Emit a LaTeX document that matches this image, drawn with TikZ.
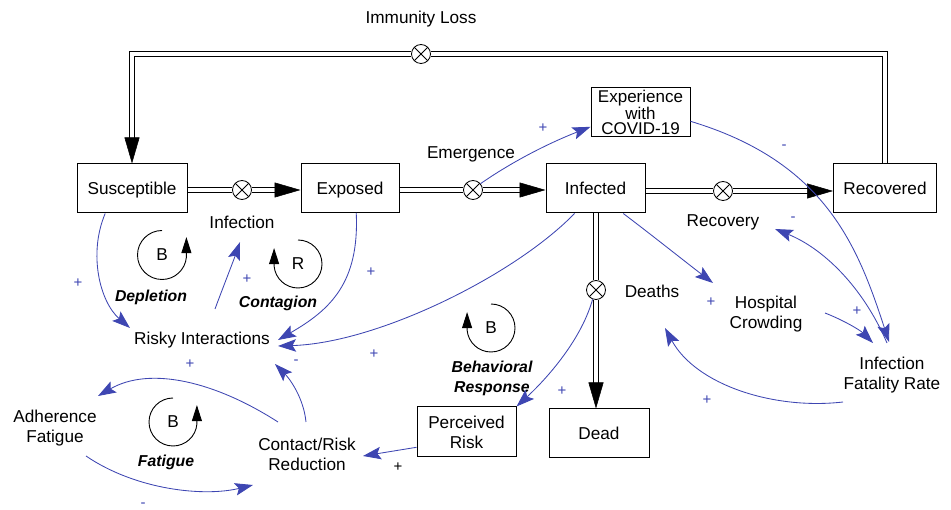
\documentclass[tikz,border=0pt]{standalone}
\usepackage{fontspec}
\setmainfont{Liberation Sans}
\usetikzlibrary{arrows.meta,calc}
\definecolor{cldblue}{RGB}{62,70,178}
\begin{document}
\begin{tikzpicture}[x=1pt,y=-1pt,
  every node/.style={font=\fontsize{17.2}{20}\selectfont, text depth=0pt},
  stock/.style={draw, line width=1pt, minimum width=#1, minimum height=49pt, inner sep=0pt, align=center},
  aux/.style={inner sep=2pt, align=center},
  valve/.style={circle, draw, line width=0.8pt, fill=white, minimum size=19pt, inner sep=0pt,
     path picture={\draw[line width=0.8pt] (path picture bounding box.north west) -- (path picture bounding box.south east) (path picture bounding box.north east) -- (path picture bounding box.south west);}},
  pipe/.style={draw=black, line width=1pt, double=white, double distance=4pt, line join=miter},
  pipehead/.style={draw=white, line width=0.5pt, -{Triangle[color=black, fill=black, length=26pt, width=15pt]}},
  cld/.style={draw=cldblue, line width=0.85pt, -{Stealth[length=18pt, width=12.5pt, inset=3.5pt]}},
  loopline/.style={draw=black, line width=0.9pt, -{Triangle[length=16pt, width=10pt]}},
  sign/.style={text=cldblue, font=\fontsize{15}{15}\selectfont, inner sep=0pt},
  looplabel/.style={font=\fontsize{15.8}{20}\selectfont\bfseries\itshape, align=center, inner sep=1pt},
]
\useasboundingbox (0,0) rectangle (951,510);

% stocks
\node[stock=110pt] (sus) at (132,188.5) {Susceptible};
\node[stock=98pt] (expo) at (350,188) {Exposed};
\node[stock=99pt] (inf) at (595.5,188.5) {Infected};
\node[stock=103pt] (rec) at (885,188.5) {Recovered};
\node[stock=99pt, font=\fontsize{17}{15.5}\selectfont] (expr) at (640.5,112.5) {Experience\\with\\COVID-19};
\node[stock=99pt, minimum height=50pt] (perc) at (466.5,432) {Perceived\\Risk};
\node[stock=100pt] (dead) at (599,433.5) {Dead};

% valves
\node[valve] (vInf) at (242,190) {};
\node[valve] (vEmer) at (473,190) {};
\node[valve] (vRec) at (723,191) {};
\node[valve] (vImm) at (421,54) {};
\node[valve] (vDeath) at (596,290) {};

% auxiliary texts
\node[aux] (immL) at (421,17) {Immunity Loss};
\node[aux] (infL) at (242,222) {Infection};
\node[aux] (emL) at (471,153) {Emergence};
\node[aux] (recL) at (723,221) {Recovery};
\node[aux] (deaL) at (652,291) {Deaths};
\node[aux] (hosp) at (766,312) {Hospital\\Crowding};
\node[aux] (ifr) at (892,373) {Infection\\Fatality Rate};
\node[aux] (risky) at (202,338) {Risky Interactions};
\node[aux] (adher) at (55,426) {Adherence\\Fatigue};
\node[aux] (contact) at (307,454) {Contact/Risk\\Reduction};

% loop markers
\node (bDep) at (162,255) {B};
\node (rCon) at (298,264) {R};
\node (bFat) at (173,422) {B};
\node (bBeh) at (491,328) {B};
\node[looplabel] (lDep) at (151,296) {Depletion};
\node[looplabel] (lCon) at (278,302) {Contagion};
\node[looplabel] (lFat) at (166,461) {Fatigue};
\node[looplabel] (lBeh) at (492,377) {Behavioral\\Response};
\draw[loopline] (bDep) ++(90:24.5pt) arc[start angle=90, end angle=355, radius=24.5pt] -- ++(0,-20);
\draw[loopline] (rCon) ++(90:24pt) arc[start angle=90, end angle=-175, radius=24pt] -- ++(0,-18);
\draw[loopline] (bFat) ++(90:24pt) arc[start angle=90, end angle=355, radius=24pt] -- ++(0,-19);
\draw[loopline] (bBeh) ++(90:24pt) arc[start angle=90, end angle=-175, radius=24pt] -- ++(0,-18);

% pipes
\draw[pipe] (sus.east|-vInf) -- (vInf.west);
\draw[pipe, shorten >=10pt] (vInf.east) -- (expo.west|-vInf);
\draw[pipehead] (vInf.east) -- (expo.west|-vInf);

\draw[pipe] (expo.east|-vEmer) -- (vEmer.west);
\draw[pipe, shorten >=10pt] (vEmer.east) -- (inf.west|-vEmer);
\draw[pipehead] (vEmer.east) -- (inf.west|-vEmer);

\draw[pipe] (inf.east|-vRec) -- (vRec.west);
\draw[pipe, shorten >=10pt] (vRec.east) -- (rec.west|-vRec);
\draw[pipehead] (vRec.east) -- (rec.west|-vRec);

\draw[pipe] (rec.north) -- (rec.north|-vImm) -- (vImm.east);
\draw[pipe, shorten >=10pt] (vImm.west) -- (sus.north|-vImm) -- (sus.north);
\draw[pipehead] (vImm.west) -- (sus.north|-vImm) -- (sus.north);

\draw[pipe] (inf.south-|vDeath) -- (vDeath.north);
\draw[pipe, shorten >=10pt] (vDeath.south) -- (dead.north-|vDeath);
\draw[pipehead] (vDeath.south) -- (dead.north-|vDeath);

% causal links
\draw[cld] (vEmer.40) .. controls (516,159) and (554,141) .. (expr.196);
\draw[cld] (expr.-10) .. controls (826,162) and (858,247) .. ($(ifr)+(-3,-31)$);
\draw[cld] ($(ifr)+(-5,-30)$) .. controls (862,285) and (822,248) .. ($(recL)+(52,8)$);
\draw[cld] (inf.-42) .. controls (653,236) and (683,260) .. ($(hosp)+(-53,-29)$);
\draw[cld] ($(hosp)+(59,1)$) .. controls (843,320) and (860,330) .. ($(ifr)+(-19,-30)$);
\draw[cld] ($(ifr)+(-49,29)$) .. controls (774,410) and (696,385) .. ($(deaL)+(13,37)$);
\draw[cld] (vDeath.-110) .. controls (580,344) and (541,384) .. (perc.north east);
\draw[cld] (perc.197) -- ($(contact)+(56,2)$);
\draw[cld] ($(contact)+(-1,-32)$) .. controls (303.5,397) and (289,378) .. ($(risky)+(73,26)$);
\draw[cld] ($(contact)+(-29,-32)$) .. controls (215,381.5) and (150,366) .. ($(adher)+(43,-30)$);
\draw[cld] ($(adher)+(31,30)$) .. controls (136,490) and (204,497) .. ($(contact)+(-54,31)$);
\draw[cld] (sus.-137) .. controls (88,254) and (100,302) .. ($(risky)+(-72,-10)$);
\draw[cld] ($(risky)+(13,-29)$) .. controls (222,290) and (233,262) .. ($(infL)+(-2,20)$);
\draw[cld] (expo.-76) .. controls (359.5,283) and (330,310) .. ($(risky)+(76,2)$);
\draw[cld] (inf.-130) .. controls (515,275) and (378,343) .. ($(risky)+(76,8)$);

% polarities
\node[sign] (s1) at (543,128) {+};
\node[sign] (s2) at (784,147) {-};
\node[sign] (s3) at (793,219) {-};
\node[sign] (s4) at (78,283) {+};
\node[sign] (s5) at (247,279) {+};
\node[sign] (s6) at (371,272) {+};
\node[sign] (s7) at (374,354) {+};
\node[sign] (s8) at (296,362) {-};
\node[sign] (s9) at (190,364) {+};
\node[sign] (s10) at (143,505) {-};
\node[sign, text=black] (s11) at (398,467) {+};
\node[sign] (s12) at (562,391) {+};
\node[sign] (s13) at (711,302) {+};
\node[sign] (s14) at (857,311) {+};
\node[sign] (s15) at (707,400) {+};
\end{tikzpicture}
\end{document}
